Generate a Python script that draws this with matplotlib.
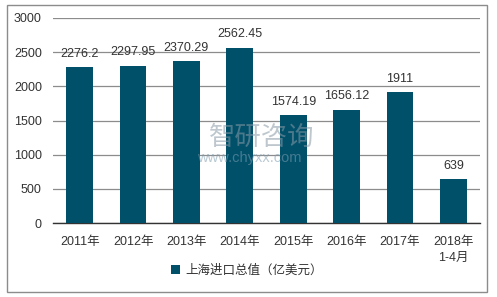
import matplotlib
matplotlib.use("Agg")
import matplotlib.pyplot as plt
from matplotlib.patches import Rectangle

plt.rcParams['font.family'] = ['Liberation Sans', 'Noto Sans CJK SC', 'DejaVu Sans']

categories = ["2011年", "2012年", "2013年", "2014年", "2015年", "2016年", "2017年", "2018年\n1-4月"]
values = [2276.2, 2297.95, 2370.29, 2562.45, 1574.19, 1656.12, 1911, 639]
value_labels = ["2276.2", "2297.95", "2370.29", "2562.45", "1574.19", "1656.12", "1911", "639"]
series_name = "上海进口总值（亿美元）"
yticks = [0, 500, 1000, 1500, 2000, 2500, 3000]

W, H = 497, 297
fig = plt.figure(figsize=(W / 100, H / 100), dpi=100)
ax = fig.add_axes([53 / W, 1 - 223 / H, (480 - 53) / W, (223 - 18) / H])

fs = 9
color = "#00506a"
x = range(len(categories))
bars = ax.bar(x, values, width=0.5, color=color, zorder=3, label=series_name)
for xi, v, lab in zip(x, values, value_labels):
    ax.text(xi, v + 110, lab, ha="center", va="bottom", fontsize=fs, color="#333333", zorder=4)

ax.set_ylim(0, 3000)
ax.set_xlim(-0.5, len(categories) - 0.5)
ax.set_yticks(yticks)
ax.set_yticklabels([str(t) for t in yticks], fontsize=fs, color="#333333")
ax.set_xticks(list(x))
ax.set_xticklabels(categories, fontsize=fs, color="#333333", linespacing=1.5)
ax.grid(axis="y", color="#8c8c8c", linewidth=0.9, zorder=0)
for s in ["top", "right", "left"]:
    ax.spines[s].set_visible(False)
ax.spines["bottom"].set_color("#333333")
ax.spines["bottom"].set_linewidth(1.0)
ax.tick_params(axis="x", length=0, pad=9)
ax.tick_params(axis="y", length=0, pad=8)

# watermark
fig.text(262 / W, 1 - 137 / H, "智研咨询", fontsize=19, color="#8a9aa6", alpha=0.55,
         ha="center", va="center", zorder=10, family=["Noto Sans CJK SC"])
fig.text(249 / W, 1 - 158 / H, "www.chyxx.com", fontsize=10.5, color="#7f9db0", alpha=0.55,
         ha="center", va="center", zorder=10)

leg = fig.legend(handles=[bars], labels=[series_name], loc="center", bbox_to_anchor=(247 / W, 1 - 271 / H),
                 frameon=False, fontsize=fs, handlelength=0.7, handleheight=0.7, handletextpad=0.4)
for t in leg.get_texts():
    t.set_color("#333333")

# outer border
fig.patches.append(Rectangle((7 / W, 1 - 292 / H), (487 - 7) / W, (292 - 5) / H,
                             transform=fig.transFigure, fill=False, edgecolor="#8c8c8c", linewidth=1.0))

fig.savefig("out.png", dpi=100)
